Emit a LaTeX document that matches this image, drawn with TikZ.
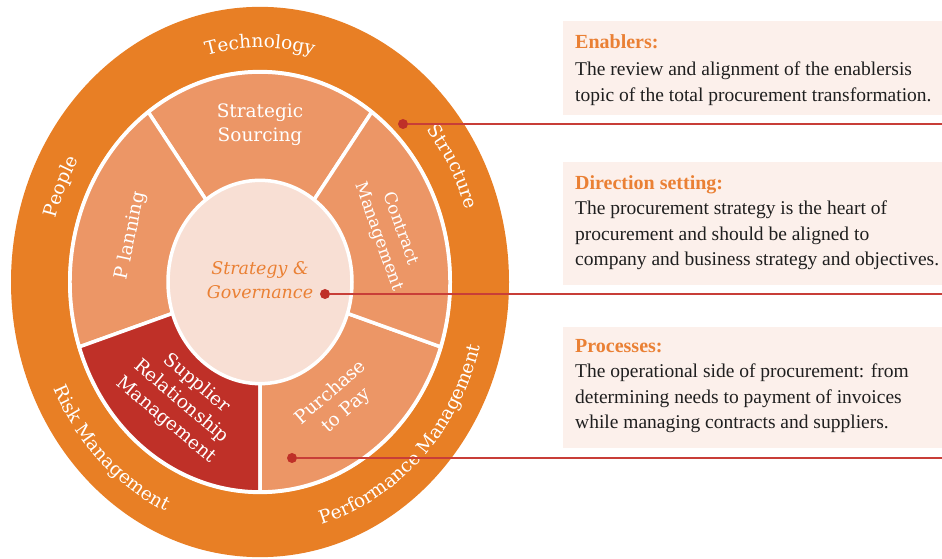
\documentclass[tikz,border=0pt]{standalone}
\usepackage{fontspec}
\setmainfont{Liberation Serif}
\newfontfamily\wheelfont{DejaVu Serif}
\usetikzlibrary{decorations.text}
\definecolor{ringorange}{RGB}{232,127,37}
\definecolor{segorange}{RGB}{236,150,102}
\definecolor{srmred}{RGB}{191,48,40}
\definecolor{corepink}{RGB}{248,223,212}
\definecolor{boxpink}{RGB}{252,240,235}
\definecolor{headorange}{RGB}{234,128,52}
\definecolor{linered}{RGB}{200,62,56}
\newcommand{\infohead}[1]{{\color{headorange}\bfseries\fontsize{20}{25}\selectfont #1}}

\begin{document}
\begin{tikzpicture}[x=1pt,y=1pt,
  segment/.style={draw=white,line width=3.5pt},
  segtext/.style={text=white,align=center,font=\wheelfont\fontsize{18.5}{24}\selectfont},
  coretext/.style={text=headorange,align=center,font=\wheelfont\itshape\fontsize{17.5}{24}\selectfont},
  ringtext/.style={decorate,decoration={text along path,text align=center,text color=white,
    text={|\wheelfont\fontsize{18.5}{18}\selectfont|#1}}},
  infobox/.style={fill=boxpink,anchor=north west,minimum width=400,inner sep=0pt},
  infotext/.style={anchor=north west,align=left,inner sep=0pt,font=\fontsize{19.5}{25.5}\selectfont,text=black!88},
  dot/.style={circle,fill=srmred,inner sep=0pt,minimum size=10pt},
  pointer/.style={linered,line width=1.6pt}]
\useasboundingbox (0,0) rectangle (942,559);

\begin{scope}[shift={(260,277)},yscale=1.105]
  \fill[ringorange] (0,0) circle[radius=249];
  \fill[white] (0,0) circle[radius=192];
  \foreach \a/\c in {54/segorange,126/segorange,198/srmred,270/segorange,342/segorange}
    \draw[segment,fill=\c] (0,0) -- (\a:190) arc[start angle=\a,end angle=\a+72,radius=190] -- cycle;
  \draw[fill=corepink,draw=white,line width=3.5pt] (0,0) circle[radius=92];

  \node[segtext] (sourcing) at (90:142) {Strategic\\Sourcing};
  \node[segtext,rotate=78] (planning) at (162:136) {P lanning};
  \node[segtext,rotate=-70,font=\wheelfont\fontsize{17}{23}\selectfont] (contract) at (19:137) {Contract\\Management};
  \node[segtext,rotate=-40] (srm) at (234:134) {Supplier\\Relationship\\Management};
  \node[segtext,rotate=41] (p2p) at (306:134) {Purchase\\to Pay};
  \node[coretext] (core) at (0,2) {Strategy \&\\Governance};

  \path[ringtext=Technology] (130:212) arc[start angle=130,end angle=50,radius=212];
  \path[ringtext=Structure] (58:216) arc[start angle=58,end angle=0,radius=216];
  \path[ringtext=People] (186:212) arc[start angle=186,end angle=126,radius=212];
  \path[ringtext={Risk Management}] (188:228) arc[start angle=188,end angle=264,radius=228];
  \path[ringtext={Performance Management}] (276:228) arc[start angle=276,end angle=354,radius=228];
\end{scope}

\node[infobox,minimum height=94] (box1) at (563,538) {};
\node[infobox,minimum height=123] (box2) at (563,397) {};
\node[infobox,minimum height=121] (box3) at (563,232) {};

\node[infotext] (enablers) at (575,525) {\infohead{Enablers:}\\[2pt]
  The review and alignment of the enablersis\\
  topic of the total procurement transformation.};
\node[infotext] (direction) at (575,384) {\infohead{Direction setting:}\\
  The procurement strategy is the heart of\\
  procurement and should be aligned to\\
  company and business strategy and objectives.};
\node[infotext] (processes) at (575,220) {\infohead{Processes:}\\
  The operational side of procurement: from\\
  determining needs to payment of invoices\\
  while managing contracts and suppliers.};

\node[dot] (dot1) at (403,435) {};
\node[dot] (dot2) at (325,265) {};
\node[dot] (dot3) at (292,101) {};
\coordinate (end1) at (942,435);
\coordinate (end2) at (942,265);
\coordinate (end3) at (942,101);
\draw[pointer] (dot1) -- (end1);
\draw[pointer] (dot2) -- (end2);
\draw[pointer] (dot3) -- (end3);
\end{tikzpicture}
\end{document}
